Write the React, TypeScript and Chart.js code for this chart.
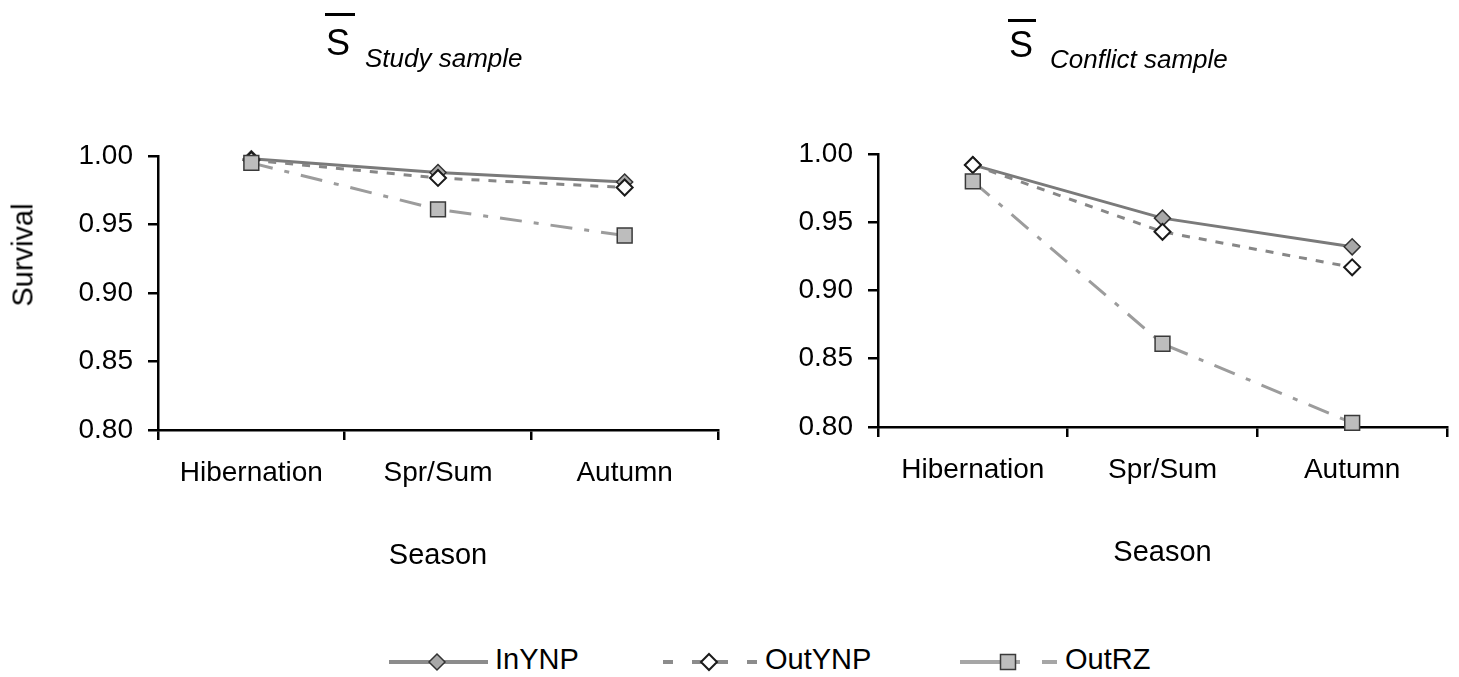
import React, { useEffect, useRef } from "react";
import { Chart, registerables } from "chart.js";

Chart.register(...registerables);

const seasons = ["Hibernation", "Spr/Sum", "Autumn"];

const studyInYNP = [0.998, 0.988, 0.981];
const studyOutYNP = [0.997, 0.984, 0.977];
const studyOutRZ = [0.995, 0.961, 0.942];

const conflictInYNP = [0.992, 0.953, 0.932];
const conflictOutYNP = [0.992, 0.943, 0.917];
const conflictOutRZ = [0.98, 0.861, 0.803];

const yMin = 0.8;
const yMax = 1.0;
const yStep = 0.05;

const seriesNames = ["InYNP", "OutYNP", "OutRZ"];
const xTitle = "Season";
const yTitle = "Survival";

const FONT = "'Liberation Sans', Arial, Helvetica, sans-serif";

function buildDatasets(inY: number[], outY: number[], outRZ: number[]) {
  return [
    {
      label: seriesNames[0],
      data: inY,
      order: 3,
      borderColor: "#7a7a7a",
      borderWidth: 3,
      pointStyle: "rectRot",
      pointRadius: 8,
      pointBackgroundColor: "#a8a8a8",
      pointBorderColor: "#333333",
      pointBorderWidth: 1.5,
      tension: 0,
      clip: false as any,
    },
    {
      label: seriesNames[1],
      data: outY,
      order: 2,
      borderColor: "#878787",
      borderWidth: 3,
      borderDash: [8, 9],
      pointStyle: "rectRot",
      pointRadius: 8,
      pointBackgroundColor: "#ffffff",
      pointBorderColor: "#1a1a1a",
      pointBorderWidth: 2,
      tension: 0,
      clip: false as any,
    },
    {
      label: seriesNames[2],
      data: outRZ,
      order: 1,
      borderColor: "#9c9c9c",
      borderWidth: 3,
      borderDash: [22, 12, 5, 12],
      pointStyle: "rect",
      pointRadius: 10.5,
      pointBackgroundColor: "#bdbdbd",
      pointBorderColor: "#3a3a3a",
      pointBorderWidth: 1.5,
      tension: 0,
      clip: false as any,
    },
  ];
}

function buildOptions(yWidth: number, padTop: number, padRight: number, xHeight: number) {
  return {
    responsive: false,
    maintainAspectRatio: false,
    animation: false as const,
    layout: { padding: { top: padTop, right: padRight, left: 0, bottom: 0 } },
    plugins: {
      legend: { display: false },
      tooltip: { enabled: false },
      title: { display: false },
    },
    scales: {
      x: {
        type: "category" as const,
        offset: true,
        grid: {
          offset: true,
          drawOnChartArea: false,
          drawTicks: true,
          tickLength: 10,
          color: "#000",
          lineWidth: 2.5,
        },
        border: { display: true, color: "#000", width: 2.5 },
        ticks: {
          color: "#000",
          font: { family: FONT, size: 28 },
          padding: 16,
          maxRotation: 0,
          autoSkip: false,
        },
        title: {
          display: true,
          text: xTitle,
          color: "#000",
          font: { family: FONT, size: 29 },
          padding: { top: 0, bottom: 0 },
        },
        afterFit: (s: any) => {
          s.height = xHeight;
        },
      },
      y: {
        type: "linear" as const,
        min: yMin,
        max: yMax,
        grid: {
          drawOnChartArea: false,
          drawTicks: true,
          tickLength: 10,
          color: "#000",
          lineWidth: 2.5,
        },
        border: { display: true, color: "#000", width: 2.5 },
        ticks: {
          stepSize: yStep,
          color: "#000",
          font: { family: FONT, size: 28 },
          padding: 15,
          callback: (v: any) => Number(v).toFixed(2),
        },
        afterFit: (s: any) => {
          s.width = yWidth;
        },
      },
    },
  };
}

function Panel(props: {
  left: number;
  width: number;
  height: number;
  yWidth: number;
  padTop: number;
  padRight: number;
  xHeight: number;
  inY: number[];
  outY: number[];
  outRZ: number[];
}) {
  const ref = useRef<HTMLCanvasElement | null>(null);
  useEffect(() => {
    if (!ref.current) return;
    const chart = new Chart(ref.current, {
      type: "line",
      data: {
        labels: seasons,
        datasets: buildDatasets(props.inY, props.outY, props.outRZ) as any,
      },
      options: buildOptions(props.yWidth, props.padTop, props.padRight, props.xHeight) as any,
    });
    return () => chart.destroy();
  }, []);
  return (
    <canvas
      ref={ref}
      width={props.width}
      height={props.height}
      style={{
        position: "absolute",
        left: props.left,
        top: 0,
        width: props.width,
        height: props.height,
      }}
    />
  );
}

function Title(props: { sLeft: number; sBaseline: number; barTop: number; barLeft: number; barWidth: number; subLeft: number; subBaseline: number; text: string }) {
  const sSize = 36;
  const subSize = 26;
  return (
    <>
      <div
        style={{
          position: "absolute",
          left: props.barLeft,
          top: props.barTop,
          width: props.barWidth,
          height: 0,
          borderTop: "3px solid #000",
        }}
      />
      <div
        style={{
          position: "absolute",
          left: props.sLeft,
          top: props.sBaseline - 0.8465 * sSize,
          fontFamily: FONT,
          fontSize: sSize,
          lineHeight: 1,
          color: "#000",
          whiteSpace: "nowrap",
        }}
      >
        S
      </div>
      <div
        style={{
          position: "absolute",
          left: props.subLeft,
          top: props.subBaseline - 0.8465 * subSize,
          fontFamily: FONT,
          fontSize: subSize,
          fontStyle: "italic",
          lineHeight: 1,
          color: "#000",
          whiteSpace: "nowrap",
        }}
      >
        {props.text}
      </div>
    </>
  );
}

function LegendText(props: { left: number; text: string }) {
  const size = 29;
  return (
    <div
      style={{
        position: "absolute",
        left: props.left,
        top: 670 - 0.8465 * size,
        fontFamily: FONT,
        fontSize: size,
        lineHeight: 1,
        color: "#000",
        whiteSpace: "nowrap",
      }}
    >
      {props.text}
    </div>
  );
}

function Legend() {
  const cy = 12;
  const top = 650;
  return (
    <>
      <svg style={{ position: "absolute", left: 389, top }} width={102} height={26}>
        <line x1={0} y1={cy} x2={99} y2={cy} stroke="#8c8c8c" strokeWidth={4} />
        <polygon points={`48,${cy - 8} 56,${cy} 48,${cy + 8} 40,${cy}`} fill="#a8a8a8" stroke="#333" strokeWidth={1.5} />
      </svg>
      <LegendText left={495} text={seriesNames[0]} />

      <svg style={{ position: "absolute", left: 663, top }} width={96} height={26}>
        <line x1={0} y1={cy} x2={10} y2={cy} stroke="#8c8c8c" strokeWidth={4} />
        <line x1={29} y1={cy} x2={65} y2={cy} stroke="#8c8c8c" strokeWidth={4} />
        <line x1={84} y1={cy} x2={94} y2={cy} stroke="#8c8c8c" strokeWidth={4} />
        <polygon points={`46,${cy - 8} 54,${cy} 46,${cy + 8} 38,${cy}`} fill="#ffffff" stroke="#1a1a1a" strokeWidth={2} />
      </svg>
      <LegendText left={765} text={seriesNames[1]} />

      <svg style={{ position: "absolute", left: 960, top }} width={100} height={26}>
        <line x1={0} y1={cy} x2={60} y2={cy} stroke="#a6a6a6" strokeWidth={4} />
        <line x1={82} y1={cy} x2={97} y2={cy} stroke="#a6a6a6" strokeWidth={4} />
        <rect x={40.5} y={cy - 7.5} width={15} height={15} fill="#bdbdbd" stroke="#3a3a3a" strokeWidth={1.5} />
      </svg>
      <LegendText left={1065} text={seriesNames[2]} />
    </>
  );
}

export default function App() {
  return (
    <div
      style={{
        position: "absolute",
        left: 0,
        top: 0,
        width: 1459,
        height: 677,
        background: "#fff",
        overflow: "hidden",
      }}
    >
      <Panel
        left={0}
        width={730}
        height={573}
        yWidth={158}
        padTop={156}
        padRight={12}
        xHeight={143}
        inY={studyInYNP}
        outY={studyOutYNP}
        outRZ={studyOutRZ}
      />
      <Panel
        left={730}
        width={729}
        height={570}
        yWidth={148}
        padTop={154}
        padRight={11}
        xHeight={143}
        inY={conflictInYNP}
        outY={conflictOutYNP}
        outRZ={conflictOutRZ}
      />
      <div
        style={{
          position: "absolute",
          left: 23,
          top: 255,
          transform: "translate(-50%, -50%) rotate(-90deg)",
          fontFamily: FONT,
          fontSize: 29,
          lineHeight: 1,
          color: "#000",
          whiteSpace: "nowrap",
        }}
      >
        {yTitle}
      </div>
      <Title sLeft={326} sBaseline={55} barTop={13} barLeft={325} barWidth={30} subLeft={365} subBaseline={67} text="Study sample" />
      <Title sLeft={1009} sBaseline={57} barTop={19} barLeft={1008} barWidth={28} subLeft={1050} subBaseline={68} text="Conflict sample" />
      <Legend />
    </div>
  );
}
